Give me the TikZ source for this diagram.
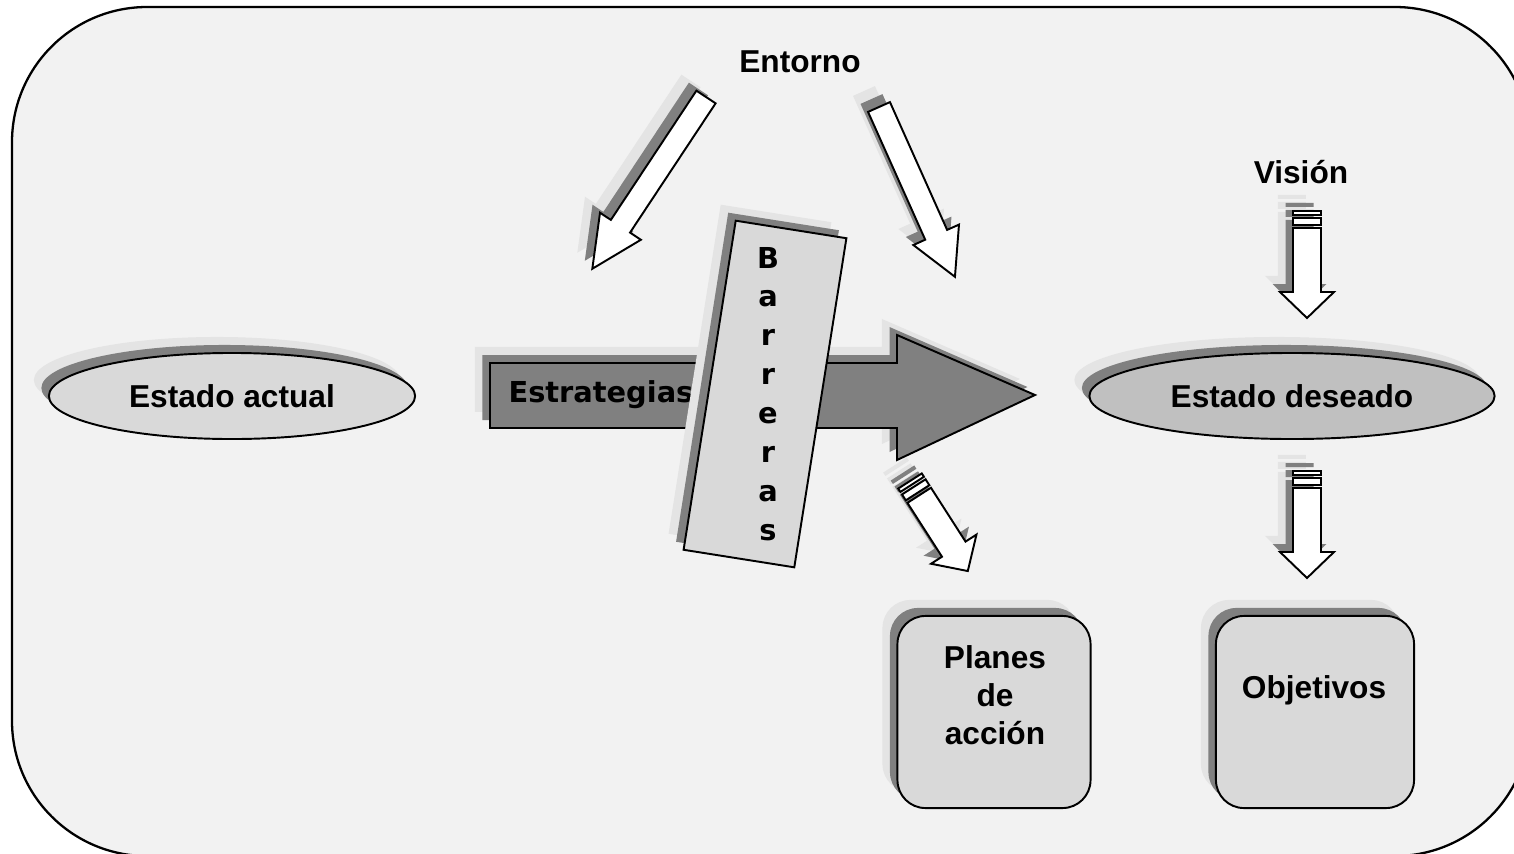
\documentclass[tikz,border=0pt]{standalone}
\usepackage{fontspec}
\setmainfont{Liberation Sans}
\newfontfamily\verdfont{DejaVu Sans}
\usetikzlibrary{shapes.geometric,shadows}
\definecolor{framebg}{HTML}{F2F2F2}
\definecolor{boxgray}{HTML}{D9D9D9}
\definecolor{goalgray}{HTML}{C0C0C0}
\definecolor{darkshade}{HTML}{808080}
\definecolor{lightshade}{HTML}{E4E4E4}

\begin{document}
\begin{tikzpicture}[x=0.01cm,y=-0.01cm,line width=0.55pt,
  softshadow/.style={general shadow={fill=lightshade,shadow xshift=-0.15cm,shadow yshift=0.16cm},
                     general shadow={fill=darkshade,shadow xshift=-0.075cm,shadow yshift=0.08cm}},
  lbl/.style={font=\bfseries\fontsize{9}{10.8}\selectfont,align=center,inner sep=0pt},
  vlbl/.style={font=\verdfont\bfseries\fontsize{8.2}{11.07}\selectfont,align=center,inner sep=0pt},
  state/.style={ellipse,draw,softshadow,inner sep=0pt,minimum height=0.86cm},
  panel/.style={rectangle,rounded corners=0.28cm,draw,fill=boxgray,softshadow,minimum height=1.92cm},
  blockarrow/.style={draw,fill=white,softshadow}]

  \useasboundingbox (0,0) rectangle (1514,854);
  \clip (0,0) rectangle (1514,854);
  \draw[fill=framebg,rounded corners=1.35cm,line width=0.65pt] (12,7) rectangle (1530,856);

  % estrategias y barreras
  \draw[fill=darkshade,softshadow] (490,363) -- (897,363) -- (897,335) -- (1035,395)
        -- (897,460) -- (897,428) -- (490,428) -- cycle;
  \node[vlbl] (estrategias) at (601,395) {Estrategias};
  \node[rectangle,draw,fill=boxgray,softshadow,rotate=-9,minimum width=1.12cm,minimum height=3.33cm] (barreras) at (765,394) {};
  \node[vlbl] (bartxt) at (768,394) {B\\a\\r\\r\\e\\r\\a\\s};

  % entorno
  \node[lbl] (entorno) at (800,62) {Entorno};
  \begin{scope}[shift={(706,97)},rotate=236.5]
    \draw[blockarrow] (0,-11.5) -- (155,-11.5) -- (155,-24.5) -- (206,0) -- (155,24.5) -- (155,11.5) -- (0,11.5) -- cycle;
  \end{scope}
  \begin{scope}[shift={(879,107)},rotate=-65.9]
    \draw[blockarrow] (0,-12) -- (140,-12) -- (140,-25) -- (186,0) -- (140,25) -- (140,12) -- (0,12) -- cycle;
  \end{scope}

  % estados
  \node[state,fill=boxgray,minimum width=3.66cm] (actual) at (232,396) {};
  \node[lbl] (actualtxt) at (actual.center) {Estado actual};
  \node[state,fill=goalgray,minimum width=4.05cm] (deseado) at (1292,396) {};
  \node[lbl] (deseadotxt) at (deseado.center) {Estado deseado};

  % vision, planes, objetivos
  \node[lbl] (vision) at (1301,172) {Visión};
  \foreach \sx/\sy/\ang in {1307/211/-90, 1307/471/-90, 910/481/-57.3}{
    \begin{scope}[shift={(\sx,\sy)},rotate=\ang]
      \draw[blockarrow] (0,-14) rectangle (4,14) (7,-14) rectangle (14,14)
            (17,-14) -- (81,-14) -- (81,-27) -- (107,0) -- (81,27) -- (81,14) -- (17,14) -- cycle;
    \end{scope}
  }
  \node[panel,minimum width=1.93cm] (planes) at (994,712) {};
  \node[lbl] (planestxt) at (995,695) {Planes\\de\\acción};
  \node[panel,minimum width=1.98cm] (objetivos) at (1315,712) {};
  \node[lbl] (objetivostxt) at (1314,690) {Objetivos};
\end{tikzpicture}
\end{document}
